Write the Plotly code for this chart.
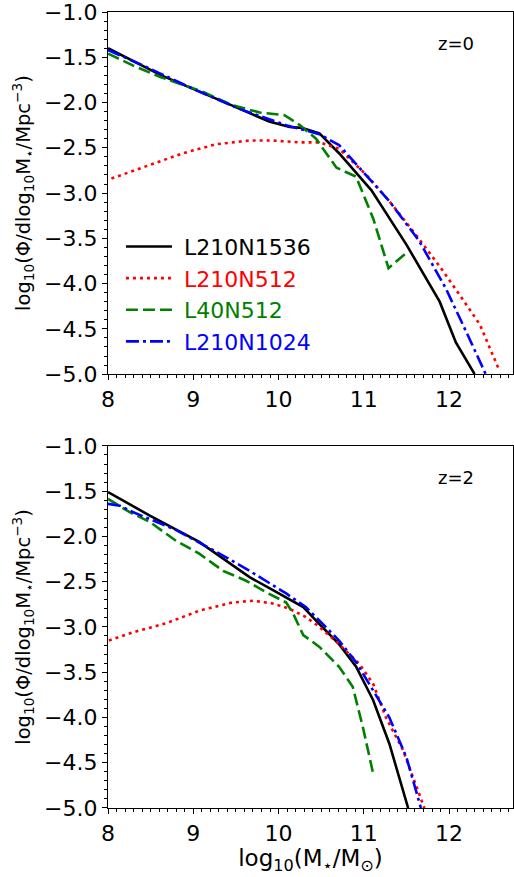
import plotly.graph_objects as go

# ---- z=0 panel data ----
z0_l1536_x = [8.0, 8.625, 9.35, 9.89, 10.13, 10.27, 10.48, 10.71, 11.09, 11.5, 11.89, 12.08, 12.30]
z0_l1536_y = [-1.40, -1.70, -1.99, -2.21, -2.27, -2.28, -2.34, -2.56, -2.97, -3.57, -4.20, -4.65, -5.0]

z0_l512_x = [8.04, 8.49, 8.88, 9.27, 9.66, 9.93, 10.25, 10.48, 10.71, 11.03, 11.30, 11.61, 11.89, 12.12, 12.36, 12.59]
z0_l512_y = [-2.84, -2.69, -2.56, -2.46, -2.42, -2.42, -2.44, -2.44, -2.51, -2.80, -3.09, -3.46, -3.81, -4.12, -4.45, -4.96]

z0_l40_x = [8.0, 8.29, 8.62, 9.11, 9.46, 9.78, 10.07, 10.25, 10.44, 10.68, 10.91, 11.11, 11.29, 11.50]
z0_l40_y = [-1.46, -1.59, -1.72, -1.88, -2.03, -2.11, -2.14, -2.25, -2.40, -2.72, -2.82, -3.28, -3.83, -3.66]

z0_l1024_x = [8.0, 8.41, 9.0, 9.54, 10.09, 10.48, 10.71, 10.99, 11.30, 11.65, 11.96, 12.20, 12.43]
z0_l1024_y = [-1.42, -1.59, -1.85, -2.07, -2.25, -2.35, -2.47, -2.76, -3.09, -3.53, -4.05, -4.53, -5.0]

# ---- z=2 panel data ----
z2_l1536_x = [8.0, 8.49, 9.07, 9.66, 9.93, 10.29, 10.48, 10.71, 10.91, 11.11, 11.30, 11.52]
z2_l1536_y = [-1.51, -1.77, -2.06, -2.45, -2.59, -2.78, -2.97, -3.19, -3.44, -3.81, -4.29, -5.0]

z2_l512_x = [8.01, 8.29, 8.68, 9.07, 9.46, 9.70, 9.93, 10.13, 10.32, 10.48, 10.71, 10.95, 11.11, 11.26, 11.46, 11.61, 11.71]
z2_l512_y = [-3.15, -3.06, -2.96, -2.82, -2.73, -2.71, -2.74, -2.80, -2.89, -3.00, -3.19, -3.41, -3.63, -4.00, -4.36, -4.73, -5.0]

z2_l40_x = [8.0, 8.25, 8.49, 8.80, 9.07, 9.35, 9.62, 9.86, 10.09, 10.17, 10.29, 10.48, 10.71, 10.87, 10.99, 11.11]
z2_l40_y = [-1.585, -1.73, -1.84, -2.05, -2.19, -2.38, -2.49, -2.62, -2.73, -2.85, -3.09, -3.22, -3.44, -3.66, -4.11, -4.62]

z2_l1024_x = [8.0, 8.14, 8.29, 8.80, 9.27, 9.66, 10.09, 10.32, 10.48, 10.71, 10.91, 11.11, 11.30, 11.50, 11.67]
z2_l1024_y = [-1.64, -1.66, -1.73, -1.93, -2.17, -2.38, -2.63, -2.78, -2.93, -3.15, -3.39, -3.70, -4.00, -4.44, -5.0]

names = ["L210N1536", "L210N512", "L40N512", "L210N1024"]
colors = ["black", "red", "green", "blue"]
dashes = ["solid", "3px,4px", "12px,5px", "13px,4px,3px,4px"]
panel_labels = ["z=0", "z=2"]

xlim = [8, 12.75]
ylim = [-5, -1]

fig = go.Figure()

panels = [
    ("x", "y", [(z0_l1536_x, z0_l1536_y), (z0_l512_x, z0_l512_y), (z0_l40_x, z0_l40_y), (z0_l1024_x, z0_l1024_y)], True),
    ("x2", "y2", [(z2_l1536_x, z2_l1536_y), (z2_l512_x, z2_l512_y), (z2_l40_x, z2_l40_y), (z2_l1024_x, z2_l1024_y)], False),
]

for xa, ya, series, show in panels:
    for (xs, ys), nm, col, ds in zip(series, names, colors, dashes):
        fig.add_trace(go.Scatter(
            x=xs, y=ys, mode="lines", xaxis=xa, yaxis=ya,
            name=f"&nbsp;<span style='color:{col}'>{nm}</span>",
            line=dict(color=col, width=2.6, dash=ds),
            showlegend=show, legendgroup=nm,
        ))

font = "DejaVu Sans"
axis_common = dict(
    range=xlim, showline=True, linecolor="black", linewidth=1.2, mirror=True,
    ticks="outside", ticklen=5, tickwidth=1.2, tickcolor="black",
    showgrid=False, zeroline=False, dtick=1, tick0=8,
    tickfont=dict(size=22, color="black", family=font),
    ticklabeloverflow="allow",
    minor=dict(dtick=0.1, ticks="outside", ticklen=3, tickcolor="black", tickwidth=1, showgrid=False),
)
yaxis_common = dict(
    range=ylim, showline=True, linecolor="black", linewidth=1.2, mirror=True,
    ticks="outside", ticklen=5, tickwidth=1.2, tickcolor="black",
    showgrid=False, zeroline=False, dtick=0.5, tick0=-5, tickformat=".1f",
    tickfont=dict(size=22, color="black", family=font),
    ticklabeloverflow="allow",
    minor=dict(dtick=0.1, ticks="outside", ticklen=3, tickcolor="black", tickwidth=1, showgrid=False),
    title=dict(text="log<sub>10</sub>(Φ/dlog<sub>10</sub>M<sub>⋆</sub>/Mpc<sup>−3</sup>)",
               font=dict(size=19.5, color="black", family=font), standoff=8),
)

fig.update_layout(
    width=514, height=877,
    margin=dict(l=108, r=0, t=10, b=69),
    paper_bgcolor="white", plot_bgcolor="white",
    font=dict(family=font, color="black"),
    xaxis=dict(axis_common, domain=[0, 1], anchor="y"),
    yaxis=dict(yaxis_common, domain=[0.5451, 1], anchor="x"),
    xaxis2=dict(axis_common, domain=[0, 1], anchor="y2",
                title=dict(text="log<sub>10</sub>(M<sub>⋆</sub>/M<sub>⊙</sub>)",
                           font=dict(size=23, color="black", family=font), standoff=4)),
    yaxis2=dict(yaxis_common, domain=[0, 0.4549], anchor="x2"),
    legend=dict(x=0.032, y=0.7315, xanchor="left", yanchor="top",
                font=dict(size=22, family=font), bgcolor="rgba(0,0,0,0)",
                itemwidth=46, tracegroupgap=0),
    showlegend=True,
)

for lbl, xa, ya in zip(panel_labels, ["x", "x2"], ["y", "y2"]):
    fig.add_annotation(x=12.08, y=-1.35, xref=xa, yref=ya, text=lbl, showarrow=False,
                       font=dict(size=18, color="black", family=font))

# remove the default 8px page margin so the figure fills the window exactly
fig.write_html("out.html",
               config={"displayModeBar": False},
               post_script="document.body.style.margin='0';document.body.style.overflow='hidden';")
